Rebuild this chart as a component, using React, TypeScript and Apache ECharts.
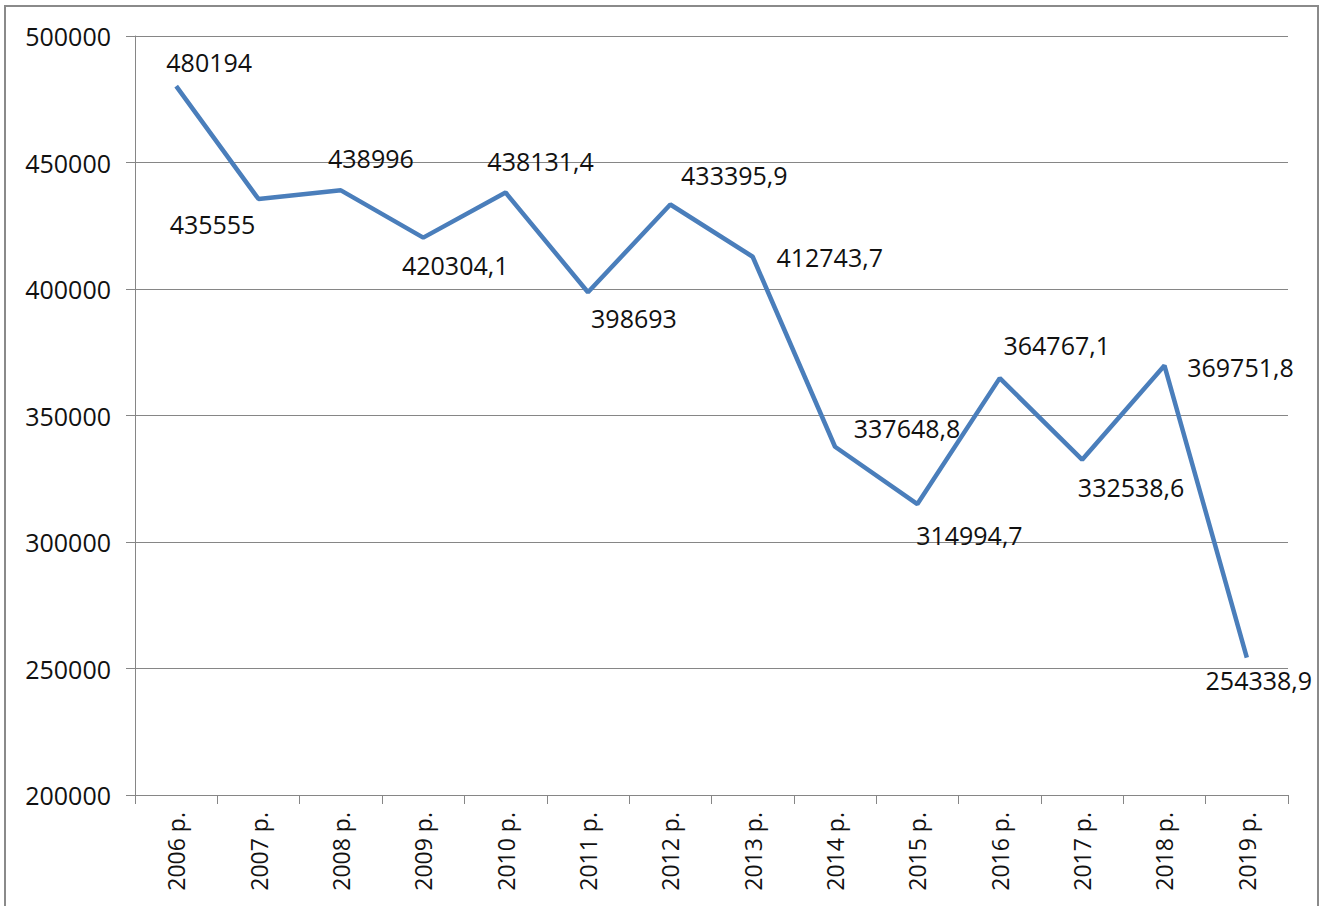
import React, { useEffect, useRef } from "react";
import * as echarts from "echarts";

const categories = [
  "2006 р.", "2007 р.", "2008 р.", "2009 р.", "2010 р.", "2011 р.", "2012 р.",
  "2013 р.", "2014 р.", "2015 р.", "2016 р.", "2017 р.", "2018 р.", "2019 р.",
];
const values = [
  480194, 435555, 438996, 420304.1, 438131.4, 398693, 433395.9,
  412743.7, 337648.8, 314994.7, 364767.1, 332538.6, 369751.8, 254338.9,
];
// label offsets relative to the point (px)
const labelOffsets: [number, number][] = [
  [33, -24], [-46, 25], [30, -32], [32, 27], [35, -32], [46, 26], [64, -30],
  [77, 0], [72, -19], [52, 31], [57, -33], [49, 27], [76, 1], [12, 22],
];

const FONT = "Open Sans";

export default function App() {
  const ref = useRef<HTMLDivElement>(null);
  useEffect(() => {
    if (!ref.current) return;
    const chart = echarts.init(ref.current, null, { renderer: "svg" });
    chart.setOption({
      animation: false,
      backgroundColor: "#ffffff",
      graphic: [
        {
          type: "rect",
          shape: { x: 5, y: 6, width: 1313, height: 920 },
          style: { fill: "none", stroke: "#8a8a8a", lineWidth: 2 },
          silent: true,
        },
      ],
      grid: { left: 135, right: 38, top: 36, bottom: 111, containLabel: false },
      xAxis: {
        type: "category",
        data: categories,
        boundaryGap: true,
        axisLine: { lineStyle: { color: "#868686", width: 1 } },
        axisTick: { show: true, length: 9, alignWithLabel: false, lineStyle: { color: "#868686" } },
        axisLabel: {
          rotate: 90,
          margin: 17,
          color: "#111",
          fontFamily: FONT,
          fontSize: 23,
          interval: 0,
        },
        splitLine: { show: false },
      },
      yAxis: {
        type: "value",
        min: 200000,
        max: 500000,
        interval: 50000,
        axisLine: { show: true, lineStyle: { color: "#868686", width: 1 } },
        axisTick: { show: true, length: 9, lineStyle: { color: "#868686" } },
        axisLabel: {
          margin: 24,
          color: "#111",
          fontFamily: FONT,
          fontSize: 25,
          formatter: (v: number) => String(v),
        },
        splitLine: { show: true, lineStyle: { color: "#868686", width: 1 } },
      },
      series: [
        {
          type: "line",
          data: values.map((v, i) => ({
            value: v,
            label: {
              show: true,
              position: "inside",
              offset: labelOffsets[i],
              align: "center",
              verticalAlign: "middle",
            },
          })),
          symbol: "circle",
          symbolSize: 0.1,
          showSymbol: true,
          itemStyle: { color: "#4A7EBB" },
          lineStyle: { color: "#4A7EBB", width: 4.5 },
          label: {
            show: true,
            color: "#111",
            fontFamily: FONT,
            fontSize: 25,
            formatter: (p: any) => String(p.value).replace(".", ","),
          },
          emphasis: { disabled: true },
        },
      ],
    });
    return () => chart.dispose();
  }, []);
  return (
    <div
      ref={ref}
      style={{ position: "fixed", left: 0, top: 0, width: 1326, height: 906 }}
    />
  );
}
